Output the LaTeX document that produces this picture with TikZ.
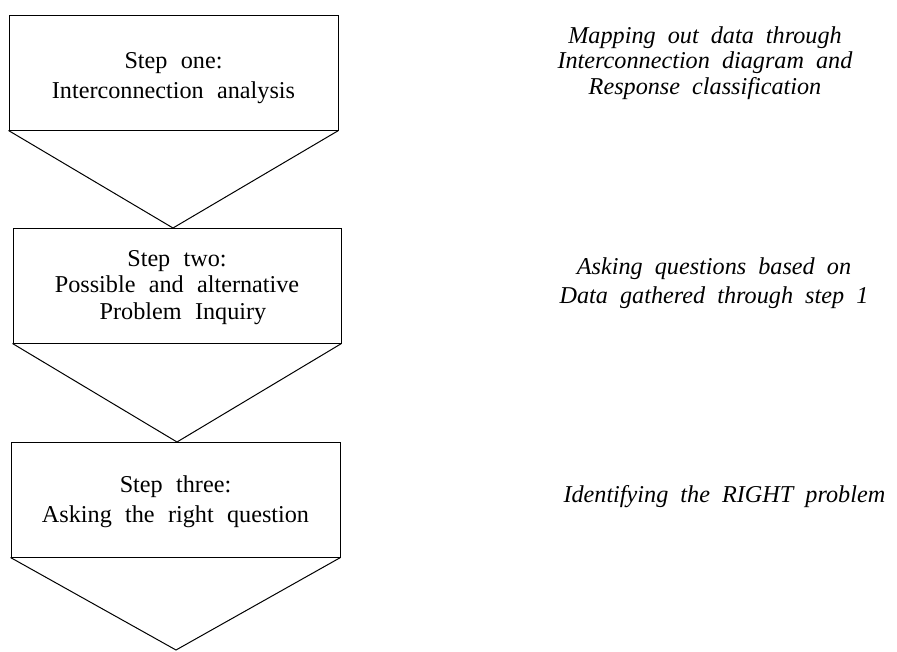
\documentclass[tikz,border=0pt]{standalone}
\usepackage{fontspec}
\setmainfont{Liberation Serif}
\newcommand\boxfontA{\fontsize{24.2}{30}\selectfont\spaceskip=0.55em plus 0.1em\relax}
\newcommand\boxfontB{\fontsize{24.2}{26.5}\selectfont\spaceskip=0.55em plus 0.1em\relax}
\newcommand\notefontA{\fontsize{24.2}{25.5}\selectfont\itshape\spaceskip=0.5em plus 0.1em\relax}
\newcommand\notefontB{\fontsize{24.2}{29}\selectfont\itshape\spaceskip=0.5em plus 0.1em\relax}
\begin{document}
\begin{tikzpicture}[x=1pt,y=-1pt,line width=1pt,
  stepbox/.style={draw,rectangle,inner sep=0pt,align=center,font=\boxfontA},
  note/.style={inner sep=0pt,align=center,font=\notefontA}]
\useasboundingbox (0,0) rectangle (897,651);
% boxes
\node[stepbox,minimum width=329pt,minimum height=115pt] (b1) at (173.5,72.5)
  {\rule{0pt}{27pt}Step one:\\Interconnection analysis};
\node[stepbox,minimum width=328pt,minimum height=115pt,font=\boxfontB] (b2) at (177,285.5)
  {\rule{0pt}{20pt}Step two:\\Possible and alternative\\\hspace*{12pt}Problem Inquiry};
\node[stepbox,minimum width=329pt,minimum height=115pt] (b3) at (175.5,499.5)
  {\rule{0pt}{22pt}Step three:\\Asking the right question};
% apexes
\coordinate (a1) at (173,228);
\coordinate (a2) at (177,442);
\coordinate (a3) at (176,650);
\draw (b1.south west) -- (a1) -- (b1.south east);
\draw (b2.south west) -- (a2) -- (b2.south east);
\draw (b3.south west) -- (a3) -- (b3.south east);
% notes
\node[note] (n1) at (705,63)
  {Mapping out data through\\Interconnection diagram and\\Response classification};
\node[note,font=\notefontB] (n2) at (714,283)
  {Asking questions based on\\Data gathered through step 1};
\node[note,anchor=base west] (n3) at (563,502) {Identifying the RIGHT problem};
\end{tikzpicture}
\end{document}
